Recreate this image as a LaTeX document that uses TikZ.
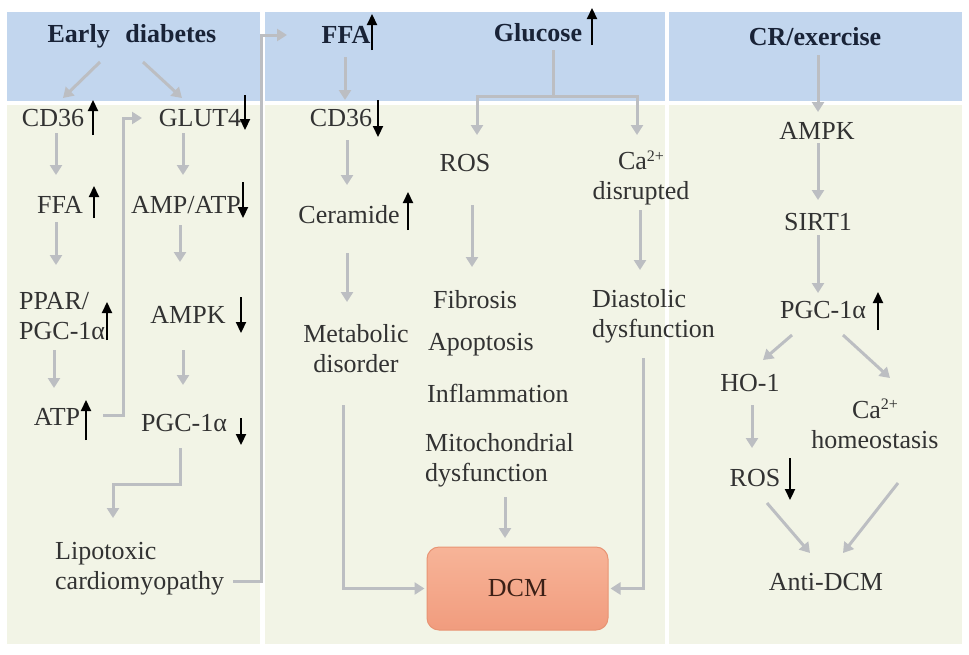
\documentclass[tikz,border=0pt]{standalone}
\usepackage{fontspec}
\setmainfont{Liberation Serif}
\usetikzlibrary{arrows.meta,calc}
\definecolor{bandblue}{RGB}{194,214,238}
\definecolor{beige}{RGB}{242,244,230}
\definecolor{garrow}{RGB}{188,190,194}
\definecolor{txt}{RGB}{50,50,50}
\definecolor{hdr}{RGB}{25,35,55}
\definecolor{dcmtop}{RGB}{247,180,152}
\definecolor{dcmbot}{RGB}{241,156,126}
\definecolor{dcmedge}{RGB}{232,148,116}
\definecolor{dcmtxt}{RGB}{60,32,22}
\newcommand\myup[3]{\draw[barr] (#1,#3) -- (#1,#2);}
\newcommand\mydown[3]{\draw[barr] (#1,#2) -- (#1,#3);}
\newcommand\supp[1]{\raisebox{0.33em}{\fontsize{16}{16}\selectfont #1}}
\begin{document}
\begin{tikzpicture}[x=1pt,y=-1pt,
  lbl/.style={inner sep=0pt, text=txt, font=\fontsize{26}{30}\selectfont},
  hd/.style={inner sep=0pt, text=hdr, font=\fontsize{26}{30}\selectfont\bfseries},
  garr/.style={draw=garrow, line width=3pt, -{Triangle[width=12pt,length=10pt]}},
  gline/.style={draw=garrow, line width=3pt},
  barr/.style={draw=black, line width=2.2pt, -{Triangle[width=10pt,length=11pt]}},
]
\useasboundingbox (0,0) rectangle (969,654);
\fill[white] (0,0) rectangle (969,654);
% bands
\fill[bandblue] (7,12) rectangle (260,101);
\fill[bandblue] (265,12) rectangle (665,101);
\fill[bandblue] (669,12) rectangle (962,101);
\fill[beige] (7,105) rectangle (260,644);
\fill[beige] (265,105) rectangle (665,644);
\fill[beige] (669,105) rectangle (962,644);

% ---------- left column ----------
\node[hd] (ed) at (132,36) {Early\hspace{0.6em}diabetes};
\node[lbl] (cd36a) at (53,118) {CD36};
\node[lbl] (glut) at (200,118) {GLUT4};
\node[lbl] (ffaL) at (60,205) {FFA};
\node[lbl] (ampatp) at (186,205) {AMP/ATP};
\node[lbl, anchor=west, align=left] (ppar) at (19,316) {PPAR/\\PGC-1α};
\node[lbl] (ampk1) at (188,315) {AMPK};
\node[lbl] (atp) at (57,417) {ATP};
\node[lbl] (pgcL) at (184,423) {PGC-1α};
\node[lbl, anchor=west, align=left] (lipo) at (55,569) {Lipotoxic\\cardiomyopathy};

% ---------- middle column ----------
\node[hd] (ffaM) at (346,35) {FFA};
\node[hd] (glu) at (538,33) {Glucose};
\node[lbl] (cd36b) at (341,118) {CD36};
\node[lbl] (cer) at (349,215) {Ceramide};
\node[lbl] (ros) at (465,163) {ROS};
\node[lbl, align=center] (ca) at (641,178) {Ca\supp{2+}\\disrupted};
\node[lbl, align=center] (meta) at (356,349) {Metabolic\\disorder};
\node[lbl, anchor=west] (fib) at (433,300) {Fibrosis};
\node[lbl, anchor=west] (apo) at (428,345) {Apoptosis};
\node[lbl, anchor=west] (infl) at (427,393) {Inflammation};
\node[lbl, anchor=west, align=left] (mito) at (425,460) {Mitochondrial\\dysfunction};
\node[lbl, anchor=west, align=left] (dia) at (592,316) {Diastolic\\dysfunction};
\node[draw=dcmedge, line width=1pt, rounded corners=12pt, top color=dcmtop, bottom color=dcmbot,
      minimum width=181pt, minimum height=83pt, inner sep=0pt, text=dcmtxt,
      font=\fontsize{26}{30}\selectfont] (dcm) at (517.5,588.5) {DCM};

% ---------- right column ----------
\node[hd] (cr) at (815,37) {CR/exercise};
\node[lbl] (ampk2) at (817,131) {AMPK};
\node[lbl] (sirt) at (818,222) {SIRT1};
\node[lbl] (pgcR) at (823,310) {PGC-1α};
\node[lbl] (ho) at (750,383) {HO-1};
\node[lbl, align=center] (cahom) at (875,424) {Ca\supp{2+}\\homeostasis};
\node[lbl] (ros2) at (755,478) {ROS};
\node[lbl] (anti) at (826,582) {Anti-DCM};

% ---------- gray connectors ----------
\draw[garr] ($(ed)+(-32,26)$) -- ($(cd36a)+(10,-20)$);
\draw[garr] ($(ed)+(11,26)$) -- ($(glut)+(-18,-20)$);
\draw[garr] ($(cd36a)+(3,15)$) -- ($(ffaL)+(-4,-30)$);
\draw[garr] ($(ffaL)+(-4,17)$) -- ($(ppar.west)+(37,-51)$);
\draw[garr] ($(ppar.west)+(35,34)$) -- ($(atp)+(-3,-29)$);
\draw[garr] ($(atp)+(46,-2)$) -- ++(20,0) |- ($(glut)+(-58,0)$);
\draw[garr] ($(glut)+(-17,15)$) -- ($(ampatp)+(-3,-30)$);
\draw[garr] ($(ampatp)+(-6,20)$) -- ($(ampk1)+(-8,-53)$);
\draw[garr] ($(ampk1)+(-5,35)$) -- ($(pgcL)+(-1,-38)$);
\draw[garr] ($(pgcL)+(-4,25)$) -- ++(0,36) -| ($(lipo.west)+(58,-51)$);
\draw[garr] ($(lipo.west)+(178,12)$) -- ++(28,0) |- ($(ffaM)+(-59,0)$);

\draw[garr] ($(ffaM)+(-1,22)$) -- ($(cd36b)+(4,-18)$);
\draw[garr] ($(cd36b)+(6,22)$) -- ($(cer)+(-2,-30)$);
\draw[garr] ($(cer)+(-2,38)$) -- ($(meta)+(-9,-47)$);
\draw[gline] ($(glu)+(15,17)$) -- ++(0,46) coordinate (split);
\draw[garr] (split) -| ($(ros)+(12,-28)$);
\draw[garr] (split) -| ($(ca)+(-4,-43)$);
\draw[garr] ($(ros)+(7,42)$) -- ($(fib.west)+(39,-33)$);
\draw[garr] ($(ca)+(-1,32)$) -- ($(dia.west)+(48,-46)$);
\draw[garr] ($(mito.west)+(80,37)$) -- ($(dcm)+(-12.5,-50.5)$);
\draw[garr] ($(meta)+(-13,56)$) |- ($(dcm.west)+(-2,0)$);
\draw[garr] ($(dia.west)+(51,42)$) |- ($(dcm.east)+(2,0)$);

\draw[garr] ($(cr)+(3,18)$) -- ($(ampk2)+(1,-19)$);
\draw[garr] ($(ampk2)+(1,12)$) -- ($(sirt)+(0,-22)$);
\draw[garr] ($(sirt)+(0,13)$) -- ($(pgcR)+(-5,-17)$);
\draw[garr] ($(pgcR)+(-31,25)$) -- ($(ho)+(13,-23)$);
\draw[garr] ($(pgcR)+(20,25)$) -- ($(cahom)+(15,-46)$);
\draw[garr] ($(ho)+(2,22)$) -- ($(ros2)+(-3,-30)$);
\draw[garr] ($(ros2)+(12,25)$) -- ($(anti)+(-16,-29)$);
\draw[garr] ($(cahom)+(23,59)$) -- ($(anti)+(17,-29)$);

% ---------- black up/down indicators ----------
\myup{93}{100}{135}
\mydown{245}{95}{130}
\myup{94}{186}{218}
\mydown{243}{182}{218}
\myup{107}{302}{340}
\mydown{241}{297}{333}
\myup{86}{400}{440}
\mydown{241}{418}{445}
\myup{372}{14}{50}
\mydown{378}{100}{137}
\myup{408}{192}{230}
\myup{592}{8}{45}
\myup{878}{292}{330}
\mydown{790}{458}{500}
\end{tikzpicture}
\end{document}
